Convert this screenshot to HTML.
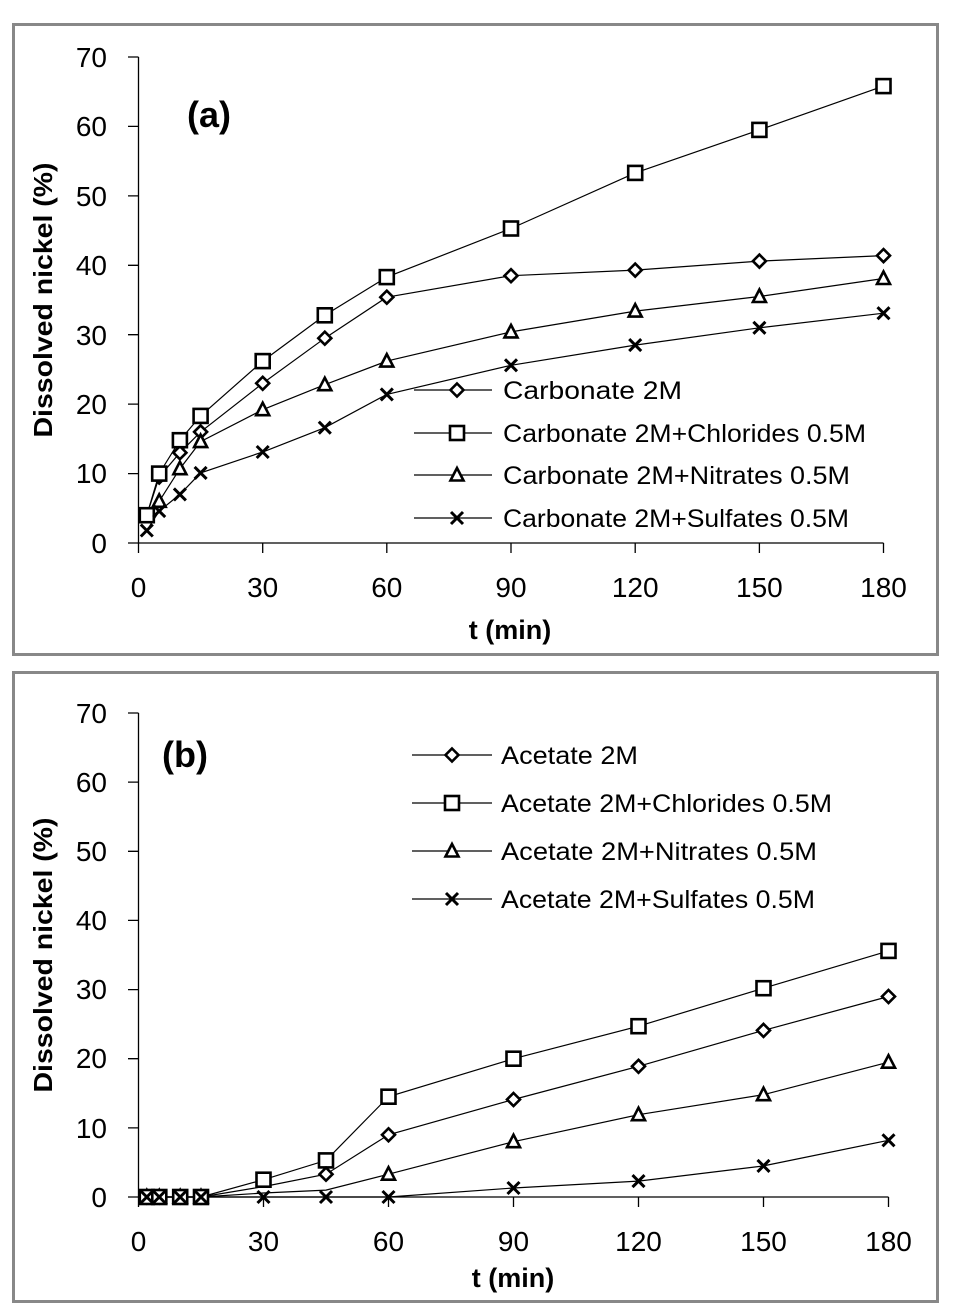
<!DOCTYPE html>
<html><head><meta charset="utf-8"><style>
html,body{margin:0;padding:0;background:#fff;}
svg text{font-family:"Liberation Sans",sans-serif;fill:#000;}
</style></head><body>
<svg width="955" height="1310" viewBox="0 0 955 1310" xmlns="http://www.w3.org/2000/svg">
<defs>
<g id="d"><path d="M0,-6.5 L6.5,0 L0,6.5 L-6.5,0 Z" fill="#fff" stroke="#000" stroke-width="2.6"/></g>
<g id="s"><rect x="-7" y="-7" width="14" height="14" fill="#fff" stroke="#000" stroke-width="2.6"/></g>
<g id="t"><path d="M0,-7 L6.5,5.5 L-6.5,5.5 Z" fill="#fff" stroke="#000" stroke-width="2.6"/></g>
<g id="x"><path d="M-6,-6 L6,6 M-6,6 L6,-6" stroke="#000" stroke-width="3"/></g>
</defs>
<rect x="13.5" y="24.5" width="924" height="630" fill="#fff" stroke="#888" stroke-width="3"/>
<rect x="13.5" y="672.5" width="924" height="629" fill="#fff" stroke="#888" stroke-width="3"/>

<!-- Chart A axes -->
<g stroke="#000" stroke-width="1.3" fill="none">
<path d="M138.5,57 V543 H883.5"/>
<path d="M128,57H138.5M128,126.4H138.5M128,195.9H138.5M128,265.3H138.5M128,334.7H138.5M128,404.1H138.5M128,473.6H138.5M128,543H138.5"/>
<path d="M138.5,543V553M262.7,543V553M386.8,543V553M511,543V553M635.2,543V553M759.4,543V553M883.5,543V553"/>
</g>
<g font-size="28" text-anchor="end">
<text x="107" y="67">70</text><text x="107" y="136">60</text><text x="107" y="206">50</text><text x="107" y="275">40</text><text x="107" y="345">30</text><text x="107" y="414">20</text><text x="107" y="483">10</text><text x="107" y="553">0</text>
</g>
<g font-size="28" text-anchor="middle">
<text x="138.5" y="597">0</text><text x="262.7" y="597">30</text><text x="386.8" y="597">60</text><text x="511" y="597">90</text><text x="635.2" y="597">120</text><text x="759.4" y="597">150</text><text x="883.5" y="597">180</text>
</g>
<text x="510" y="639" font-size="27" font-weight="bold" text-anchor="middle">t (min)</text>
<text transform="translate(52,300) rotate(-90)" font-size="26" font-weight="bold" text-anchor="middle" textLength="275" lengthAdjust="spacingAndGlyphs">Dissolved nickel (%)</text>
<text x="187" y="127" font-size="36" font-weight="bold">(a)</text>

<g fill="none" stroke="#000" stroke-width="1.2">
<polyline points="146.8,515.2 159.2,477 179.9,452.7 200.6,431.9 262.7,383.3 324.8,338.2 386.8,297.2 511,275.7 635.2,270.1 759.4,261.1 883.5,255.6"/>
<polyline points="146.8,515.2 159.2,473.6 179.9,440.2 200.6,415.9 262.7,361.1 324.8,315.3 386.8,277.1 511,228.5 635.2,172.9 759.4,129.9 883.5,86.1"/>
<polyline points="146.8,522.2 159.2,501.3 179.9,468.7 200.6,441.6 262.7,409.7 324.8,384.7 386.8,361.1 511,331.9 635.2,311.1 759.4,296.5 883.5,278.5"/>
<polyline points="146.8,530.5 159.2,511.1 179.9,494.4 200.6,472.9 262.7,452 324.8,427.7 386.8,394.4 511,365.3 635.2,345.1 759.4,327.8 883.5,313.2"/>
</g>
<use href="#d" x="159.2" y="477"/><use href="#d" x="179.9" y="452.7"/><use href="#d" x="200.6" y="431.9"/><use href="#d" x="262.7" y="383.3"/><use href="#d" x="324.8" y="338.2"/><use href="#d" x="386.8" y="297.2"/><use href="#d" x="511" y="275.7"/><use href="#d" x="635.2" y="270.1"/><use href="#d" x="759.4" y="261.1"/><use href="#d" x="883.5" y="255.6"/>
<use href="#s" x="146.8" y="515.2"/><use href="#s" x="159.2" y="473.6"/><use href="#s" x="179.9" y="440.2"/><use href="#s" x="200.6" y="415.9"/><use href="#s" x="262.7" y="361.1"/><use href="#s" x="324.8" y="315.3"/><use href="#s" x="386.8" y="277.1"/><use href="#s" x="511" y="228.5"/><use href="#s" x="635.2" y="172.9"/><use href="#s" x="759.4" y="129.9"/><use href="#s" x="883.5" y="86.1"/>
<use href="#t" x="159.2" y="501.3"/><use href="#t" x="179.9" y="468.7"/><use href="#t" x="200.6" y="441.6"/><use href="#t" x="262.7" y="409.7"/><use href="#t" x="324.8" y="384.7"/><use href="#t" x="386.8" y="361.1"/><use href="#t" x="511" y="331.9"/><use href="#t" x="635.2" y="311.1"/><use href="#t" x="759.4" y="296.5"/><use href="#t" x="883.5" y="278.5"/>
<use href="#x" x="146.8" y="530.5"/><use href="#x" x="159.2" y="511.1"/><use href="#x" x="179.9" y="494.4"/><use href="#x" x="200.6" y="472.9"/><use href="#x" x="262.7" y="452"/><use href="#x" x="324.8" y="427.7"/><use href="#x" x="386.8" y="394.4"/><use href="#x" x="511" y="365.3"/><use href="#x" x="635.2" y="345.1"/><use href="#x" x="759.4" y="327.8"/><use href="#x" x="883.5" y="313.2"/>

<!-- Legend A -->
<g stroke="#000" stroke-width="1.2"><path d="M414,390H492M414,433H492M414,475H492M414,518H492"/></g>
<use href="#d" x="457" y="390"/><use href="#s" x="457" y="433"/><use href="#t" x="457" y="475"/><use href="#x" x="457" y="518"/>
<g font-size="25">
<text x="503" y="399" textLength="179" lengthAdjust="spacingAndGlyphs">Carbonate 2M</text>
<text x="503" y="442" textLength="363" lengthAdjust="spacingAndGlyphs">Carbonate 2M+Chlorides 0.5M</text>
<text x="503" y="484" textLength="347" lengthAdjust="spacingAndGlyphs">Carbonate 2M+Nitrates 0.5M</text>
<text x="503" y="527" textLength="346" lengthAdjust="spacingAndGlyphs">Carbonate 2M+Sulfates 0.5M</text>
</g>

<!-- Chart B axes -->
<g stroke="#000" stroke-width="1.3" fill="none">
<path d="M138.5,713 V1197 H888.5"/>
<path d="M128,713H138.5M128,782.1H138.5M128,851.3H138.5M128,920.4H138.5M128,989.6H138.5M128,1058.7H138.5M128,1127.9H138.5M128,1197H138.5"/>
<path d="M138.5,1197V1207M263.5,1197V1207M388.5,1197V1207M513.5,1197V1207M638.5,1197V1207M763.5,1197V1207M888.5,1197V1207"/>
</g>
<g font-size="28" text-anchor="end">
<text x="107" y="723">70</text><text x="107" y="792">60</text><text x="107" y="861">50</text><text x="107" y="930">40</text><text x="107" y="999">30</text><text x="107" y="1068">20</text><text x="107" y="1138">10</text><text x="107" y="1207">0</text>
</g>
<g font-size="28" text-anchor="middle">
<text x="138.5" y="1251">0</text><text x="263.5" y="1251">30</text><text x="388.5" y="1251">60</text><text x="513.5" y="1251">90</text><text x="638.5" y="1251">120</text><text x="763.5" y="1251">150</text><text x="888.5" y="1251">180</text>
</g>
<text x="513" y="1287" font-size="27" font-weight="bold" text-anchor="middle">t (min)</text>
<text transform="translate(52,955) rotate(-90)" font-size="26" font-weight="bold" text-anchor="middle" textLength="275" lengthAdjust="spacingAndGlyphs">Dissolved nickel (%)</text>
<text x="162" y="767" font-size="36" font-weight="bold">(b)</text>

<g fill="none" stroke="#000" stroke-width="1.2">
<polyline points="146.8,1197 201,1197 263.5,1179.7 326,1160.4 388.5,1096.7 513.5,1058.7 638.5,1026.2 763.5,988.2 888.5,950.9"/>
<polyline points="146.8,1197 201,1197 263.5,1186.6 326,1174.2 388.5,1134.8 513.5,1099.5 638.5,1066.3 763.5,1030.4 888.5,996.5"/>
<polyline points="146.8,1197 201,1197 263.5,1193 326,1190.1 388.5,1174.2 513.5,1141.7 638.5,1114.7 763.5,1094.7 888.5,1062.2"/>
<polyline points="146.8,1197 388.5,1197 513.5,1188 638.5,1181.1 763.5,1165.9 888.5,1140.3"/>
</g>
<use href="#t" x="146.8" y="1197"/><use href="#t" x="159.3" y="1197"/><use href="#t" x="180.2" y="1197"/><use href="#t" x="201" y="1197"/>
<use href="#d" x="146.8" y="1197"/><use href="#d" x="159.3" y="1197"/><use href="#d" x="180.2" y="1197"/><use href="#d" x="201" y="1197"/>
<use href="#s" x="146.8" y="1197"/><use href="#s" x="159.3" y="1197"/><use href="#s" x="180.2" y="1197"/><use href="#s" x="201" y="1197"/>
<use href="#x" x="146.8" y="1197"/><use href="#x" x="159.3" y="1197"/><use href="#x" x="180.2" y="1197"/><use href="#x" x="201" y="1197"/>
<use href="#s" x="263.5" y="1179.7"/><use href="#s" x="326" y="1160.4"/><use href="#s" x="388.5" y="1096.7"/><use href="#s" x="513.5" y="1058.7"/><use href="#s" x="638.5" y="1026.2"/><use href="#s" x="763.5" y="988.2"/><use href="#s" x="888.5" y="950.9"/>
<use href="#d" x="326" y="1174.2"/><use href="#d" x="388.5" y="1134.8"/><use href="#d" x="513.5" y="1099.5"/><use href="#d" x="638.5" y="1066.3"/><use href="#d" x="763.5" y="1030.4"/><use href="#d" x="888.5" y="996.5"/>
<use href="#t" x="388.5" y="1174.2"/><use href="#t" x="513.5" y="1141.7"/><use href="#t" x="638.5" y="1114.7"/><use href="#t" x="763.5" y="1094.7"/><use href="#t" x="888.5" y="1062.2"/>
<use href="#x" x="263.5" y="1197"/><use href="#x" x="326" y="1197"/><use href="#x" x="388.5" y="1197"/><use href="#x" x="513.5" y="1188"/><use href="#x" x="638.5" y="1181.1"/><use href="#x" x="763.5" y="1165.9"/><use href="#x" x="888.5" y="1140.3"/>

<!-- Legend B -->
<g stroke="#000" stroke-width="1.2"><path d="M412,755H492M412,803H492M412,851H492M412,899H492"/></g>
<use href="#d" x="452" y="755"/><use href="#s" x="452" y="803"/><use href="#t" x="452" y="851"/><use href="#x" x="452" y="899"/>
<g font-size="25">
<text x="501" y="764" textLength="137" lengthAdjust="spacingAndGlyphs">Acetate 2M</text>
<text x="501" y="812" textLength="331" lengthAdjust="spacingAndGlyphs">Acetate 2M+Chlorides 0.5M</text>
<text x="501" y="860" textLength="316" lengthAdjust="spacingAndGlyphs">Acetate 2M+Nitrates 0.5M</text>
<text x="501" y="908" textLength="314" lengthAdjust="spacingAndGlyphs">Acetate 2M+Sulfates 0.5M</text>
</g>
</svg>
</body></html>
